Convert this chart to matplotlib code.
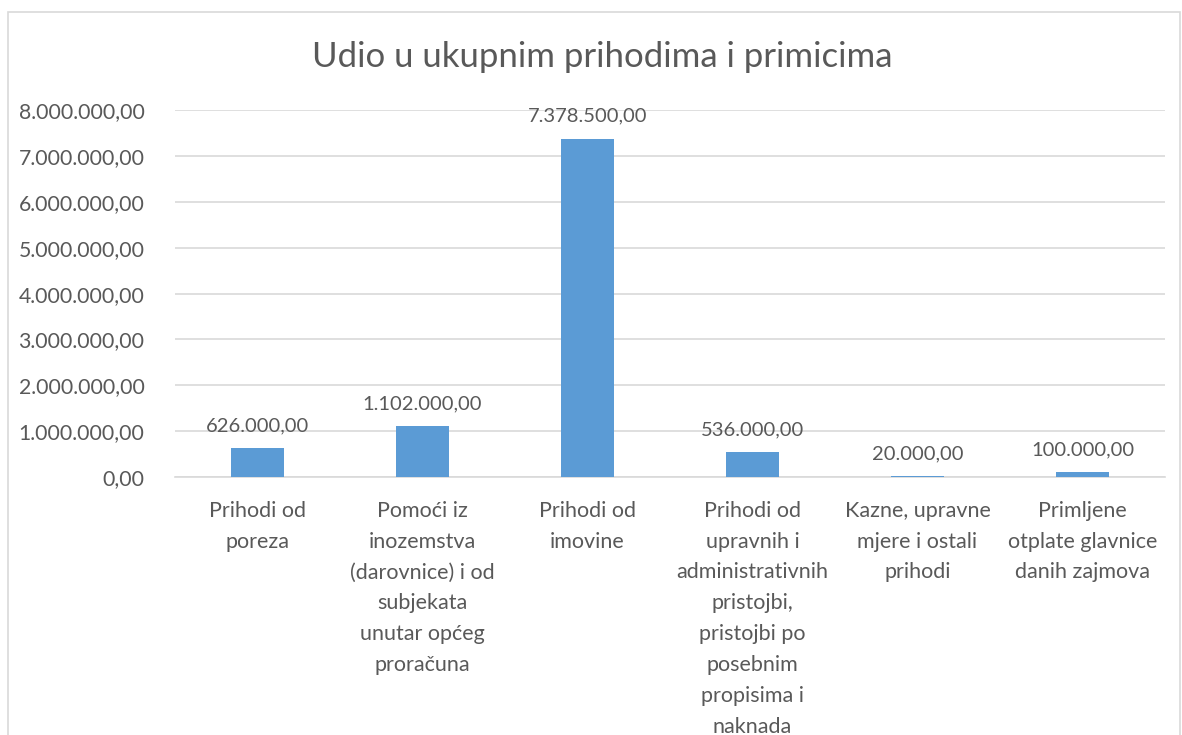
import matplotlib
matplotlib.use("Agg")
import matplotlib.pyplot as plt
from matplotlib.patches import Rectangle
from matplotlib.ticker import FuncFormatter

categories = [
    "Prihodi od\nporeza",
    "Pomoći iz\ninozemstva\n(darovnice) i od\nsubjekata\nunutar općeg\nproračuna",
    "Prihodi od\nimovine",
    "Prihodi od\nupravnih i\nadministrativnih\npristojbi,\npristojbi po\nposebnim\npropisima i\nnaknada",
    "Kazne, upravne\nmjere i ostali\nprihodi",
    "Primljene\notplate glavnice\ndanih zajmova",
]
values = [626000, 1102000, 7378500, 536000, 20000, 100000]
yticks = [0, 1000000, 2000000, 3000000, 4000000, 5000000, 6000000, 7000000, 8000000]

TXT = "#595959"
BAR = "#5B9BD5"
GRID = "#D9D9D9"

plt.rcParams["font.family"] = ["Lato", "DejaVu Sans"]


def fmt(v):
    s = f"{v:,.2f}"
    return s.replace(",", "X").replace(".", ",").replace("X", ".")


fig = plt.figure(figsize=(11.82, 7.35), dpi=100)
fig.patches.append(Rectangle((8 / 1182, -0.05), 1172 / 1182, 1.05 - 12 / 735,
                             transform=fig.transFigure, fill=False,
                             edgecolor=GRID, lw=1.2))

ax = fig.add_axes([0.148, 0.351, 0.8376, 0.499])
x = range(len(values))
bars = ax.bar(x, values, width=0.32, color=BAR, zorder=3)
for xi, v in zip(x, values):
    ax.annotate(fmt(v), (xi, v), xytext=(0, 10), textcoords="offset points",
                ha="center", va="bottom", fontsize=14.5, color=TXT)

ax.set_xlim(-0.5, len(values) - 0.5)
ax.set_ylim(0, 8000000)
ax.set_yticks(yticks)
ax.yaxis.set_major_formatter(FuncFormatter(lambda v, p: fmt(v)))
ax.set_xticks(list(x))
ax.set_xticklabels(categories, fontsize=15.5, color=TXT, linespacing=1.68)
ax.tick_params(axis="x", length=0, pad=17)
ax.tick_params(axis="y", length=0, pad=22, labelsize=15.3, labelcolor=TXT)
ax.grid(axis="y", color=GRID, lw=1.2, zorder=0)
for s in ["top", "right", "left"]:
    ax.spines[s].set_visible(False)
ax.spines["bottom"].set_color(GRID)
ax.spines["bottom"].set_linewidth(1.2)

fig.text(602 / 1182, 1 - 57 / 735, "Udio u ukupnim prihodima i primicima",
         ha="center", va="center", fontsize=25, color=TXT)

fig.savefig("out.png", dpi=100)
